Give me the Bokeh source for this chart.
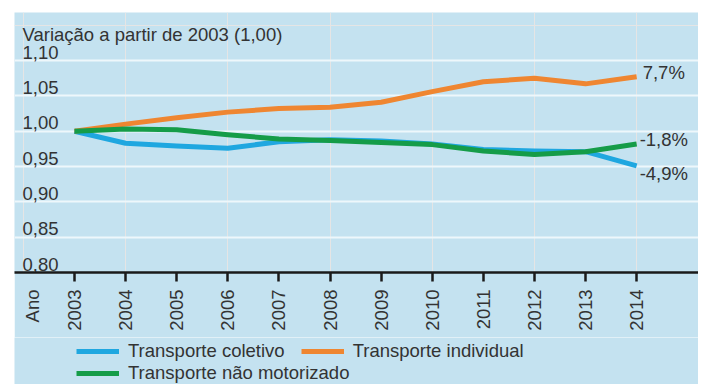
import math
from bokeh.plotting import figure
from bokeh.layouts import column
from bokeh.models import (FixedTicker, Grid, Legend, LegendItem, Range1d, ColumnDataSource,
                          LinearAxis)
from bokeh.embed import file_html
from bokeh.resources import INLINE
from bokeh.core.properties import value

# ---- data ----
years = [2003, 2004, 2005, 2006, 2007, 2008, 2009, 2010, 2011, 2012, 2013, 2014]
year_labels = ["2003", "2004", "2005", "2006", "2007", "2008", "2009", "2010", "2011", "2012", "2013", "2014"]
coletivo = [1.000, 0.983, 0.979, 0.976, 0.985, 0.988, 0.986, 0.982, 0.974, 0.972, 0.971, 0.951]
individual = [1.000, 1.010, 1.019, 1.027, 1.032, 1.034, 1.041, 1.056, 1.070, 1.075, 1.067, 1.077]
nao_motorizado = [1.000, 1.003, 1.002, 0.995, 0.989, 0.987, 0.984, 0.981, 0.972, 0.967, 0.971, 0.982]
series_names = ["Transporte coletivo", "Transporte individual", "Transporte não motorizado"]
end_labels = ["7,7%", "-1,8%", "-4,9%"]
y_ticks = [0.80, 0.85, 0.90, 0.95, 1.00, 1.05, 1.10]
y_tick_labels = ["0,80", "0,85", "0,90", "0,95", "1,00", "1,05", "1,10"]
title_text = "Variação a partir de 2003 (1,00)"
x_axis_name = "Ano"

# ---- style ----
BG = "#c4e2f0"
BLUE = "#1fa7e0"
ORANGE = "#ef8631"
GREEN = "#159c48"
TXT = "#333333"
FONT = "Liberation Sans"
FS = "18.5px"

x0, x1 = 2001.826, 2015.21
y0, y1 = 0.80, 1.168
px_per_year = 684 / (x1 - x0)
px_per_unit = 260 / (y1 - y0)
ano_x = years[0] - 0.82

p = figure(width=684, height=325, x_range=Range1d(x0, x1), y_range=Range1d(y0, y1),
           x_axis_location=None, y_axis_location=None, output_backend="svg", toolbar_location=None,
           min_border_left=0, min_border_right=0, min_border_top=0, min_border_bottom=65,
           background_fill_color=BG, border_fill_color=BG, outline_line_color=None)
p.margin = (12, 3, 0, 14)

p.add_layout(Grid(dimension=1, ticker=FixedTicker(ticks=y_ticks[1:]),
                  grid_line_color="#eef7fb", grid_line_width=2))

# axis 1: line + tick marks only
ax1 = LinearAxis(ticker=FixedTicker(ticks=years),
                 major_label_overrides={y: "" for y in years},
                 major_label_text_font_size="0px", major_label_standoff=0,
                 axis_line_color="#1a1a1a", axis_line_width=2.5,
                 major_tick_line_color="#1a1a1a", major_tick_line_width=2.5,
                 major_tick_in=0, major_tick_out=9, minor_tick_line_color=None)
# axis 2: the year labels (and the axis name), no line, no ticks
ticks2 = [ano_x] + years
labels2 = [x_axis_name] + year_labels
ax2 = LinearAxis(ticker=FixedTicker(ticks=ticks2),
                 major_label_overrides={t: s for t, s in zip(ticks2, labels2)},
                 major_label_orientation=math.pi / 2,
                 major_label_text_font=FONT, major_label_text_font_size=FS,
                 major_label_text_color=TXT, major_label_standoff=2,
                 axis_line_color=None, major_tick_line_color=None, minor_tick_line_color=None)
p.add_layout(ax1, "below")
p.add_layout(ax2, "below")

p.line(years, coletivo, line_width=5, color=BLUE, line_join="round")
p.line(years, individual, line_width=5, color=ORANGE, line_join="round")
p.line(years, nao_motorizado, line_width=5, color=GREEN, line_join="round")

# y tick labels inside the panel, above grid lines
lab_x = x0 + 8 / px_per_year
p.text(x=[lab_x] * len(y_ticks), y=y_ticks, text=y_tick_labels, text_font=value(FONT),
       text_font_size=FS, text_color=TXT, text_align="left", text_baseline="bottom", y_offset=-2)

# title line
p.text(x=[lab_x], y=[1.10 + 26 / px_per_unit], text=[title_text], text_font=value(FONT),
       text_font_size=FS, text_color=TXT, text_align="left", text_baseline="alphabetic")

# end labels
src = ColumnDataSource(dict(x=[years[-1]] * 3,
                            y=[individual[-1], nao_motorizado[-1], coletivo[-1]],
                            t=end_labels, xo=[6, 3, 3], yo=[-4, -4, 8]))
p.text(x="x", y="y", text="t", x_offset="xo", y_offset="yo", source=src,
       text_font=value(FONT), text_font_size=FS, text_color=TXT,
       text_align="left", text_baseline="middle")

# legend strip (same panel colour); its line renderers carry the series but lie outside its view
p2 = figure(width=684, height=47, x_range=Range1d(0, 1), y_range=Range1d(0, 1),
            x_axis_location=None, y_axis_location=None,
            output_backend="svg", toolbar_location=None,
            min_border_left=0, min_border_right=0, min_border_top=0, min_border_bottom=0,
            background_fill_color=BG, border_fill_color=BG, outline_line_color=None)
p2.margin = (0, 3, 0, 14)
p2.xgrid.visible = False
p2.ygrid.visible = False
k_col = p2.line(years, coletivo, line_width=5, color=BLUE)
k_ind = p2.line(years, individual, line_width=5, color=ORANGE)
k_nao = p2.line(years, nao_motorizado, line_width=5, color=GREEN)

common = dict(label_text_font=FONT, label_text_font_size=FS, label_text_color=TXT,
              glyph_width=43, glyph_height=20, label_height=20, label_standoff=9, spacing=16,
              padding=0, margin=0, background_fill_alpha=0, border_line_alpha=0,
              orientation="horizontal")
leg1 = Legend(items=[LegendItem(label=series_names[0], renderers=[k_col]),
                     LegendItem(label=series_names[1], renderers=[k_ind])],
              location=(62, 22), **common)
leg2 = Legend(items=[LegendItem(label=series_names[2], renderers=[k_nao])],
              location=(62, 0), **common)
p2.add_layout(leg1, "center")
p2.add_layout(leg2, "center")

layout = column(p, p2, spacing=0)
open("out.html", "w").write(file_html(layout, INLINE))
